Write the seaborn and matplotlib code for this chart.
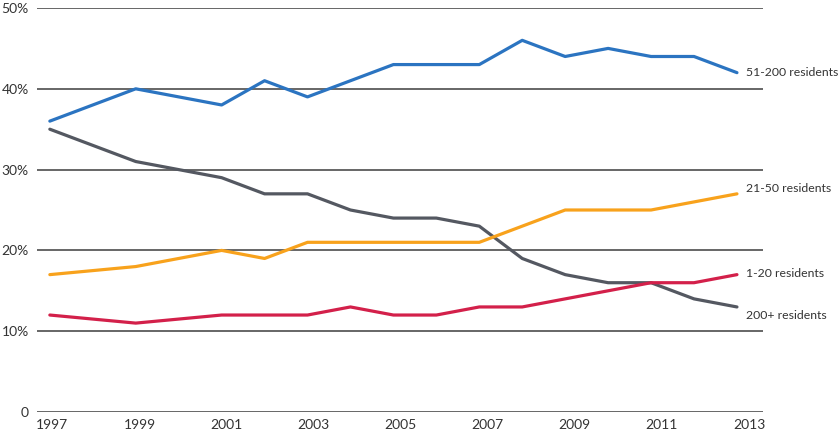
import numpy as np
import pandas as pd
import matplotlib.pyplot as plt
import seaborn as sns

# Share of residents by home size, 1997-2013 (percent)
years = [1997, 1999, 2001, 2002, 2003, 2004, 2005, 2006, 2007, 2008, 2009, 2010, 2011, 2012, 2013]
res_51_200 = [36, 40, 38, 41, 39, 41, 43, 43, 43, 46, 44, 45, 44, 44, 42]
res_200_plus = [35, 31, 29, 27, 27, 25, 24, 24, 23, 19, 17, 16, 16, 14, 13]
res_21_50 = [17, 18, 20, 19, 21, 21, 21, 21, 21, 23, 25, 25, 25, 26, 27]
res_1_20 = [12, 11, 12, 12, 12, 13, 12, 12, 13, 13, 14, 15, 16, 16, 17]

series = {
    "51-200 residents": res_51_200,
    "200+ residents": res_200_plus,
    "21-50 residents": res_21_50,
    "1-20 residents": res_1_20,
}
colors = {
    "51-200 residents": "#2b74c1",
    "200+ residents": "#545861",
    "21-50 residents": "#f8a21c",
    "1-20 residents": "#d3204a",
}
# label y offsets (in % units) relative to the line end
label_dy = {
    "51-200 residents": 0,
    "200+ residents": -1.0,
    "21-50 residents": 0.7,
    "1-20 residents": 0.1,
}
x_tick_labels = ["1997", "1999", "2001", "2003", "2005", "2007", "2009", "2011", "2013"]
# the year labels sit on an even spacing slightly wider than the data's
x_tick_pos = np.linspace(1997.06, 2013.28, len(x_tick_labels))
y_ticks = [0, 10, 20, 30, 40, 50]
y_labels = ["0", "10%", "20%", "30%", "40%", "50%"]

rows = []
for name, vals in series.items():
    for yr, v in zip(years, vals):
        rows.append({"year": yr, "share": v, "group": name})
df = pd.DataFrame(rows)

sns.set_theme(style="white")
plt.rcParams['font.family'] = ['Lato', 'DejaVu Sans']

fig = plt.figure(figsize=(8.4, 4.38), dpi=100)
ax = fig.add_axes([0.044, 0.0594, 0.864, 0.9223])

for y in y_ticks:
    ax.axhline(y, color="#666666", lw=1.4, zorder=0)

sns.lineplot(data=df, x="year", y="share", hue="group", palette=colors,
             linewidth=2.3, legend=False, ax=ax)

for name, vals in series.items():
    ax.text(years[-1] + 0.2, vals[-1] + label_dy[name], name, fontsize=8.8,
            color="#333333", va="center", ha="left", clip_on=False)

ax.set_xlim(1996.7, 2013.6)
ax.set_ylim(0, 50)
ax.set_xticks(x_tick_pos)
ax.set_xticklabels(x_tick_labels, fontsize=10, color="#333333")
ax.set_yticks(y_ticks)
ax.set_yticklabels(y_labels, fontsize=10, color="#333333")
ax.tick_params(axis="both", length=0)
ax.tick_params(axis="y", pad=6)
ax.tick_params(axis="x", pad=5)
ax.set_xlabel("")
ax.set_ylabel("")
sns.despine(ax=ax, left=True, bottom=True)

fig.savefig("out.png", dpi=100)
